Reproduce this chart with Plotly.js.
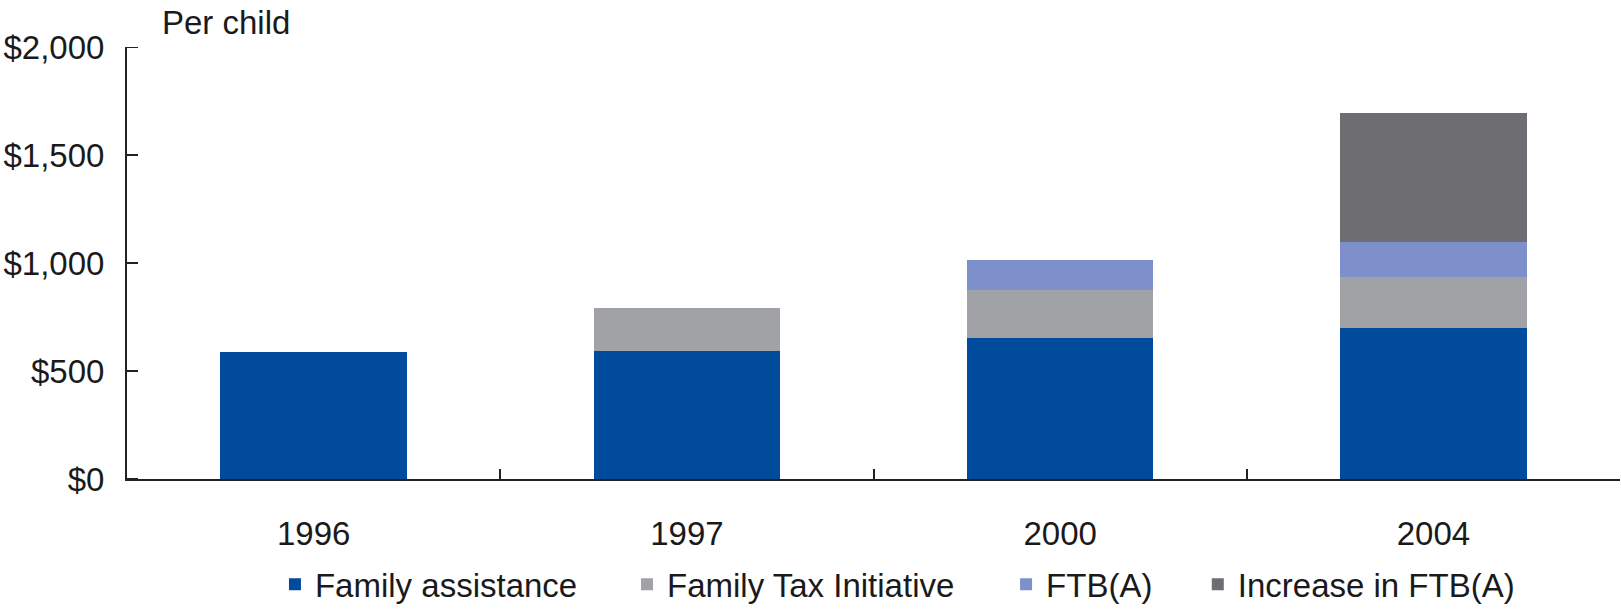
<!DOCTYPE html>
<html>
<head>
<meta charset="utf-8">
<script src="https://cdn.plot.ly/plotly-3.0.1.min.js"></script>
<style>
	html, body { margin: 0; padding: 0; background: #ffffff; }
	#chart { width: 1621px; height: 613px; }
</style>
</head>
<body>
<div id="chart"></div>
<script>
'use strict';

// chart values
const years = ["1996", "1997", "2000", "2004"];
const familyAssistance = [587, 592, 654, 699];
const familyTaxInitiative = [null, 202, 221, 238];
const ftbA = [null, null, 139, 158];
const increaseFtbA = [null, null, null, 601];
const yTickVals = [0, 500, 1000, 1500, 2000];
const yTickText = ["$0", "$500", "$1,000", "$1,500", "$2,000"];

const font = "Liberation Sans, Arial, sans-serif";
const ink = "#1a1a1a";
const axisInk = "#222222";
const fontSize = 33;
const plotWidth = 1621 - 127 - 1;

function barTrace(name, values, colour, legendId)
{
	return {
		type: "bar",
		name: name,
		x: years,
		y: values,
		marker: { color: colour, line: { width: 0 } },
		legend: legendId,
		hoverinfo: "skip"
	};
}

const data = [
	barTrace("Family assistance", familyAssistance, "#004b9b", "legend"),
	barTrace("Family Tax Initiative", familyTaxInitiative, "#a0a2a5", "legend2"),
	barTrace("FTB(A)", ftbA, "#7e90cb", "legend3"),
	barTrace("Increase in FTB(A)", increaseFtbA, "#6d6d72", "legend4")
];

// one small legend per entry so each lands where the original has it
function legendAt(x)
{
	return {
		x: x,
		xanchor: "left",
		y: -0.2437,
		yanchor: "middle",
		orientation: "h",
		bgcolor: "rgba(0,0,0,0)",
		borderwidth: 0,
		font: { family: font, size: fontSize, color: ink }
	};
}

// the y-axis inside ticks did not show, so draw the short marks at each tick value
const yTickMarks = yTickVals.map(function (v) {
	return {
		type: "line",
		xref: "paper",
		yref: "y",
		x0: 0,
		x1: 11 / plotWidth,
		y0: v,
		y1: v,
		line: { color: axisInk, width: 2 },
		layer: "above"
	};
});

const layout = {
	width: 1621,
	height: 613,
	margin: { l: 127, r: 1, t: 47, b: 131 },
	paper_bgcolor: "#ffffff",
	plot_bgcolor: "#ffffff",
	font: { family: font, size: fontSize, color: ink },
	barmode: "stack",
	bargap: 0.5,
	showlegend: true,
	legend: legendAt(0.0991),
	legend2: legendAt(0.3349),
	legend3: legendAt(0.5888),
	legend4: legendAt(0.7172),
	xaxis: {
		type: "category",
		showgrid: false,
		zeroline: false,
		showline: true,
		linecolor: axisInk,
		linewidth: 2,
		ticks: "inside",
		tickson: "boundaries",
		ticklen: 10,
		tickwidth: 2,
		tickcolor: axisInk,
		ticklabelstandoff: 24,
		tickfont: { family: font, size: fontSize, color: ink }
	},
	yaxis: {
		range: [0, 2000],
		showgrid: false,
		zeroline: false,
		showline: true,
		linecolor: axisInk,
		linewidth: 2,
		ticks: "",
		tickmode: "array",
		tickvals: yTickVals,
		ticktext: yTickText,
		ticklabelstandoff: 14,
		tickfont: { family: font, size: fontSize, color: ink }
	},
	shapes: yTickMarks,
	annotations: [
		{
			text: "Per child",
			xref: "paper",
			yref: "paper",
			x: 0.0221,
			y: 1.0575,
			xanchor: "left",
			yanchor: "middle",
			showarrow: false,
			font: { family: font, size: fontSize, color: ink }
		}
	]
};

Plotly.newPlot("chart", data, layout, { staticPlot: true, displayModeBar: false });
</script>
</body>
</html>
